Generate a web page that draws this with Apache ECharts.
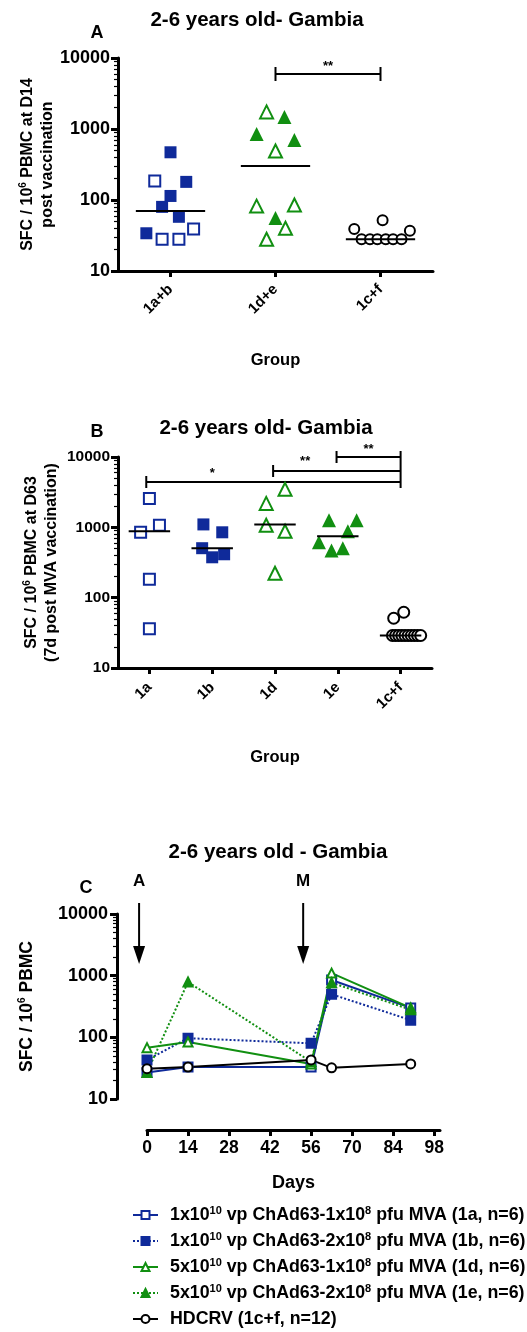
<!DOCTYPE html>
<html><head><meta charset="utf-8">
<script src="https://cdn.jsdelivr.net/npm/echarts@6/dist/echarts.min.js"></script>
<style>html,body{margin:0;padding:0;background:#fff}#c{width:527px;height:1332px}</style>
</head><body><div id="c"></div>
<script>
const FONT = '"Liberation Sans", Arial, Helvetica, sans-serif';
const BLUE = '#0f2a9a';
const GREEN = '#118f11';

// ---------- Panel A (D14) ----------
const catsA = ['1a+b', '1d+e', '1c+f'];
const a1a = [185, 39, 28, 28];
const a1b = [470, 180, 114, 80, 58, 34];
const a1d = [1740, 490, 82, 85, 40, 28];
const a1e = [1480, 850, 700, 56];
const a1cf = [39, 52, 37, 28, 28, 28, 28, 28, 28];
const medA = [70, 300, 28];
// horizontal spread of points within a category (category units)
const jA1a = [-0.15, 0.22, -0.08, 0.08];
const jA1b = [0, 0.15, 0, -0.08, 0.08, -0.23];
const jA1d = [-0.085, 0, -0.18, 0.18, 0.095, -0.085];
const jA1e = [0.085, -0.18, 0.18, 0];
const jA1cf = [-0.25, 0.02, 0.28, -0.18, -0.1, -0.03, 0.05, 0.12, 0.2];

// ---------- Panel B (D63) ----------
const catsB = ['1a', '1b', '1d', '1e', '1c+f'];
const b1a = [2580, 1070, 850, 183, 36];
const b1b = [1100, 850, 505, 375, 414];
const b1d = [3470, 2190, 1070, 880, 222];
const b1e = [1260, 1260, 880, 612, 470, 505];
const b1cf = [51, 62, 29, 29, 29, 29, 29, 29, 29, 29, 29, 29];
const medB = [880, 505, 1100, 745, 29];
const jB1a = [0, 0.16, -0.14, 0, 0];
const jB1b = [-0.14, 0.16, -0.16, 0, 0.19];
const jB1d = [0.16, -0.14, -0.14, 0.16, 0];
const jB1e = [-0.14, 0.3, 0.16, -0.3, -0.1, 0.08];
const jB1cf = [-0.11, 0.05, -0.13, -0.08, -0.03, 0.02, 0.07, 0.12, 0.17, 0.22, 0.27, 0.32];

// ---------- Panel C (time course) ----------
const days = [0, 14, 56, 63, 90];
const c1a = [27, 33, 33, 850, 300];
const c1b = [43, 97, 80, 500, 190];
const c1d = [68, 84, 37, 1100, 300];
const c1e = [27, 790, 40, 770, 280];
const cHD = [31, 33, 43, 32, 37];
const dayTicks = [0, 14, 28, 42, 56, 70, 84, 98];
const seriesNamesC = ['1a', '1b', '1d', '1e', '1c+f'];
const legendLabels = [
  '1x10{sup|10} vp ChAd63-1x10{sup|8} pfu MVA (1a, n=6)',
  '1x10{sup|10} vp ChAd63-2x10{sup|8} pfu MVA (1b, n=6)',
  '5x10{sup|10} vp ChAd63-1x10{sup|8} pfu MVA (1d, n=6)',
  '5x10{sup|10} vp ChAd63-2x10{sup|8} pfu MVA (1e, n=6)',
  'HDCRV (1c+f, n=12)'
];

const minorLogs = [];
for (let d = 1; d <= 3; d++) for (let k = 2; k <= 9; k++) minorLogs.push(Math.log10(k * Math.pow(10, d)));

const supRich = (fs) => ({ sup: { fontSize: fs, fontWeight: 'bold', fontFamily: FONT, color: '#000', verticalAlign: 'top' } });

function mainY(grid, fs, name, gap, offset, nameFs, margin) {
  return {
    type: 'log', logBase: 10, min: 10, max: 10000, gridIndex: grid, position: 'left', offset: offset || 0,
    axisLine: { show: true, onZero: false, lineStyle: { color: '#000', width: 3 } },
    axisTick: { show: true, length: 7, lineStyle: { color: '#000', width: 3 } },
    axisLabel: { fontSize: fs, fontWeight: 'bold', color: '#000', fontFamily: FONT, margin: margin, formatter: v => String(Math.round(v)) },
    splitLine: { show: false },
    name: name, nameLocation: 'middle', nameRotate: 90, nameGap: gap, nameMoveOverlap: false,
    nameTextStyle: { fontSize: nameFs, fontWeight: 'bold', color: '#000', fontFamily: FONT, lineHeight: 20, align: 'center', rich: supRich(10) }
  };
}
function minorY(grid, offset) {
  return {
    type: 'value', min: 1, max: 4, gridIndex: grid, position: 'left', offset: offset || 0,
    axisLine: { show: false, onZero: false }, axisLabel: { show: false }, splitLine: { show: false },
    axisTick: { show: true, length: 4, lineStyle: { color: '#000', width: 1.2 }, customValues: minorLogs }
  };
}
function catX(grid, cats, fs, gap, margin) {
  const idx = cats.map((c, i) => i);
  return {
    type: 'value', min: -0.5, max: cats.length - 0.5, gridIndex: grid, position: 'bottom',
    axisLine: { show: true, onZero: false, lineStyle: { color: '#000', width: 3 } },
    axisTick: { show: true, length: 6, lineStyle: { color: '#000', width: 3 }, customValues: idx },
    axisLabel: { customValues: idx, rotate: 45, margin: margin, fontSize: fs, fontWeight: 'bold', color: '#000', fontFamily: FONT, formatter: v => cats[Math.round(v)] },
    splitLine: { show: false },
    name: 'Group', nameLocation: 'middle', nameGap: gap, nameMoveOverlap: false,
    nameTextStyle: { fontSize: 16.5, fontWeight: 'bold', color: '#000', fontFamily: FONT }
  };
}
function pts(vals, cat, jit) { return vals.map((v, i) => [cat + jit[i], v]); }
function scatter(xi, yi, data, symbol, size, color, bw) {
  return { type: 'scatter', xAxisIndex: xi, yAxisIndex: yi, data: data, symbol: symbol, symbolSize: size,
    itemStyle: { color: color, borderColor: color, borderWidth: bw || 0, opacity: 1 }, emphasis: { disabled: true }, silent: true };
}
function medians(xi, yi, meds) {
  return { type: 'custom', xAxisIndex: xi, yAxisIndex: yi, data: meds.map((m, i) => [i, m]), silent: true, z: 5,
    renderItem: (p, api) => {
      const x = api.value(0), y = api.value(1);
      const a = api.coord([x - 0.33, y]), b = api.coord([x + 0.33, y]);
      return { type: 'line', shape: { x1: a[0], y1: a[1], x2: b[0], y2: b[1] }, style: { stroke: '#000', lineWidth: 2 } };
    } };
}
function lineS(name, vals, color, type, symbol) {
  return { type: 'line', name: name, xAxisIndex: 2, yAxisIndex: 4, data: days.map((d, i) => [d, vals[i]]),
    symbol: symbol, symbolSize: 9, showAllSymbol: true, silent: true,
    lineStyle: { color: color, width: 2, type: type }, itemStyle: { color: color, borderColor: color, borderWidth: 2 } };
}

const chart = echarts.init(document.getElementById('c'), null, { renderer: 'canvas' });
const option = {
  animation: false,
  backgroundColor: '#fff',
  grid: [
    { left: 118, top: 58, width: 315, height: 213, outerBoundsMode: 'none' },
    { left: 118, top: 457, width: 314, height: 211, outerBoundsMode: 'none' },
    { left: 147, top: 914, width: 293, height: 185, outerBoundsMode: 'none' }
  ],
  xAxis: [
    catX(0, catsA, 15, 81, 16),
    catX(1, catsB, 15, 81, 17),
    {
      type: 'value', min: 0, max: 100, gridIndex: 2, position: 'bottom', offset: 31,
      axisLine: { show: true, onZero: false, lineStyle: { color: '#000', width: 3 } },
      axisTick: { show: true, length: 6, lineStyle: { color: '#000', width: 3 }, customValues: dayTicks },
      axisLabel: { customValues: dayTicks, fontSize: 17.5, fontWeight: 'bold', color: '#000', fontFamily: FONT, margin: 9 },
      splitLine: { show: false },
      name: 'Days', nameLocation: 'middle', nameGap: 44, nameMoveOverlap: false,
      nameTextStyle: { fontSize: 18, fontWeight: 'bold', color: '#000', fontFamily: FONT }
    }
  ],
  yAxis: [
    mainY(0, 18, 'SFC / 10{sup|6} PBMC at D14\npost vaccination', 60, 0, 16, 8),
    minorY(0, 0),
    mainY(1, 15.5, 'SFC / 10{sup|6} PBMC at D63\n(7d post MVA vaccination)', 56, 0, 16, 8),
    minorY(1, 0),
    mainY(2, 18, 'SFC / 10{sup|6} PBMC', 80, 30, 17.5, 9),
    minorY(2, 30)
  ],
  legend: {
    data: seriesNamesC, orient: 'vertical', left: 132, top: 1205, padding: 0, itemWidth: 25, itemHeight: 10, itemGap: 6,
    selectedMode: false,
    formatter: n => legendLabels[seriesNamesC.indexOf(n)],
    textStyle: { fontFamily: FONT, fontSize: 17.8, fontWeight: 'bold', color: '#000', lineHeight: 20, padding: [0, 0, 0, 7], rich: supRich(11) }
  },
  series: [
    // Panel A
    scatter(0, 0, pts(a1a, 0, jA1a), 'emptyRect', 11, BLUE, 2),
    scatter(0, 0, pts(a1b, 0, jA1b), 'rect', 12, BLUE),
    scatter(0, 0, pts(a1d, 1, jA1d), 'emptyTriangle', 13, GREEN, 2),
    scatter(0, 0, pts(a1e, 1, jA1e), 'triangle', 14, GREEN),
    scatter(0, 0, pts(a1cf, 2, jA1cf), 'emptyCircle', 10, '#000', 2),
    medians(0, 0, medA),
    // Panel B
    scatter(1, 2, pts(b1a, 0, jB1a), 'emptyRect', 11, BLUE, 2),
    scatter(1, 2, pts(b1b, 1, jB1b), 'rect', 12, BLUE),
    scatter(1, 2, pts(b1d, 2, jB1d), 'emptyTriangle', 13, GREEN, 2),
    scatter(1, 2, pts(b1e, 3, jB1e), 'triangle', 14, GREEN),
    scatter(1, 2, pts(b1cf, 4, jB1cf), 'emptyCircle', 11, '#000', 2),
    medians(1, 2, medB),
    // Panel C
    lineS('1a', c1a, BLUE, 'solid', 'emptyRect'),
    lineS('1b', c1b, BLUE, 'dotted', 'rect'),
    lineS('1d', c1d, GREEN, 'solid', 'emptyTriangle'),
    lineS('1e', c1e, GREEN, 'dotted', 'triangle'),
    lineS('1c+f', cHD, '#000', 'solid', 'emptyCircle')
  ]
};
chart.setOption(option);

// ---------- annotations ----------
const px = (ax, v) => chart.convertToPixel({ xAxisIndex: ax }, v);
const T = (text, x, y, fs) => ({ type: 'text', x: x, y: y, silent: true,
  style: { text: text, fill: '#000', font: 'bold ' + fs + 'px ' + FONT, align: 'center', verticalAlign: 'middle' } });
const L = (x1, y1, x2, y2, w) => ({ type: 'line', silent: true, shape: { x1, y1, x2, y2 }, style: { stroke: '#000', lineWidth: w || 2 } });
const g = [];
// titles
g.push(T('2-6 years old- Gambia', 257, 20, 20.5));
g.push(T('A', 97, 33, 18));
g.push(T('2-6 years old- Gambia', 266, 428, 20.5));
g.push(T('B', 97, 432, 18));
g.push(T('2-6 years old - Gambia', 278, 852, 20.5));
g.push(T('C', 86, 888, 18));
// panel A significance
{
  const x1 = px(0, 1), x2 = px(0, 2);
  g.push(L(x1, 74, x2, 74), L(x1, 67, x1, 81), L(x2, 67, x2, 81));
  g.push(T('**', (x1 + x2) / 2, 66, 13));
}
// panel B significance
{
  const xa = px(1, -0.05), xd = px(1, 1.97), xe = px(1, 2.98), xc = px(1, 4);
  g.push(L(xa, 482, xc, 482), L(xa, 476, xa, 488));
  g.push(T('*', px(1, 1), 473, 13));
  g.push(L(xd, 471, xc, 471), L(xd, 465, xd, 477));
  g.push(T('**', px(1, 2.48), 461, 13));
  g.push(L(xe, 457, xc, 457), L(xe, 451, xe, 463));
  g.push(T('**', (xe + xc) / 2, 449, 13));
  g.push(L(xc, 451, xc, 488));
}
// panel C arrows (Ad prime, MVA boost)
[[-2.7, 'A'], [53.3, 'M']].forEach(([d, lab]) => {
  const x = px(2, d);
  g.push(L(x, 903, x, 950, 2));
  g.push({ type: 'polygon', silent: true, shape: { points: [[x - 6, 946], [x + 6, 946], [x, 964]] }, style: { fill: '#000' } });
  g.push(T(lab, x, 881, 17));
});
chart.setOption({ graphic: g });
</script>
</body></html>
